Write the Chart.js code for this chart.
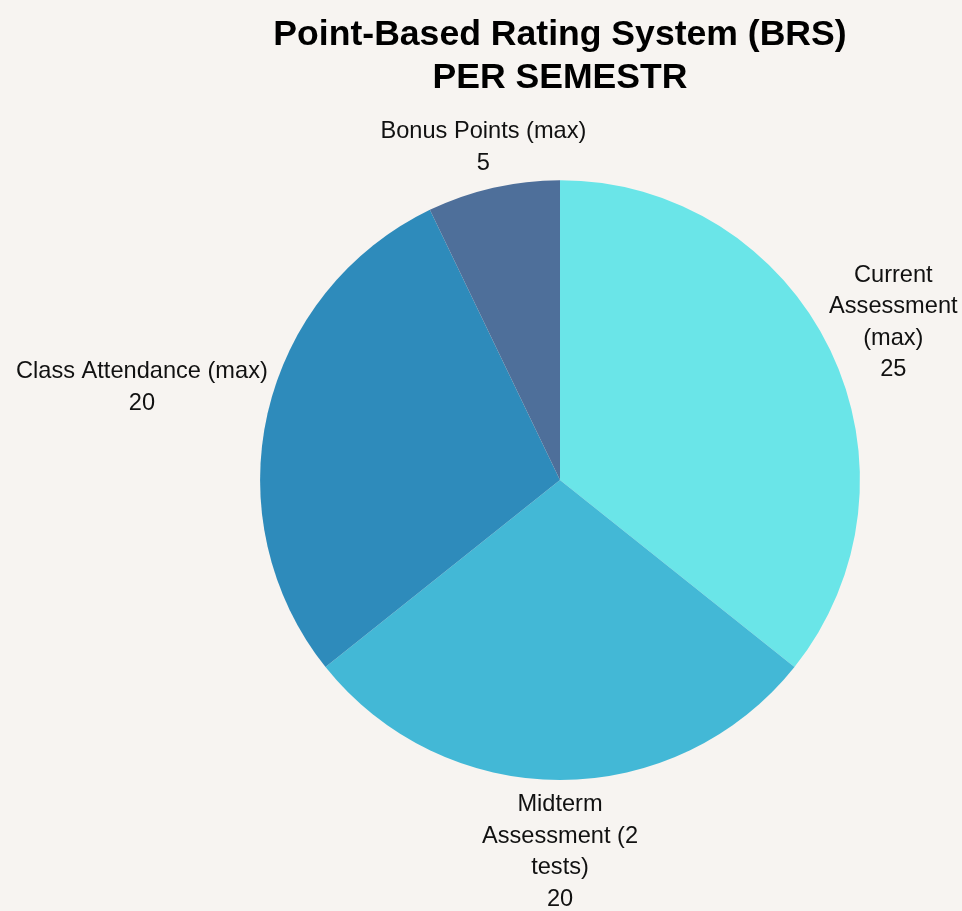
<!DOCTYPE html>
<html>
<head>
<meta charset="utf-8">
<title>BRS per semester</title>
<script src="https://cdn.jsdelivr.net/npm/chart.js@4"></script>
<style>
  html, body { margin: 0; padding: 0; background: #F7F4F1; }
  #wrap { width: 962px; height: 911px; }
</style>
</head>
<body>
<div id="wrap"><canvas id="brsChart" width="962" height="911"></canvas></div>
<script>
// --- data ---
const titleLines = ['Point-Based Rating System (BRS)', 'PER SEMESTR'];
const categories = [
    ['Current', 'Assessment', '(max)'],
    ['Midterm', 'Assessment (2', 'tests)'],
    ['Class Attendance (max)'],
    ['Bonus Points (max)']
];
const points = [25, 20, 20, 5];
const sliceColors = ['#6AE5E8', '#43B8D6', '#2E8BBB', '#4E6F9A'];

const FONT = "'Liberation Sans', Arial, Helvetica, sans-serif";

// draws each label + value outside its slice, pushed out along the middle angle
const outsideLabels = {
    id: 'outsideLabels',
    afterDatasetsDraw(chart) {
        const ctx = chart.ctx;
        const arcs = chart.getDatasetMeta(0).data;
        const fontSize = 23.6;
        const lineH = 31.5;
        ctx.save();
        ctx.font = fontSize + 'px ' + FONT;
        ctx.fillStyle = '#111';
        ctx.textAlign = 'center';
        ctx.textBaseline = 'middle';
        arcs.forEach(function (arc, i) {
            const p = arc.getProps(['x', 'y', 'startAngle', 'endAngle', 'outerRadius'], true);
            const mid = (p.startAngle + p.endAngle) / 2;
            const ux = Math.cos(mid);
            const uy = Math.sin(mid);
            const lines = categories[i].concat([String(points[i])]);
            let w = 0;
            lines.forEach(l => { w = Math.max(w, ctx.measureText(l).width); });
            const h = lines.length * lineH;
            // how far the text block reaches towards the pie along this direction
            const reach = Math.sqrt(Math.pow(w / 2 * ux, 2) + Math.pow(h / 2 * uy, 2));
            const d = p.outerRadius + 6 + reach;
            const cx = p.x + d * ux;
            const cy = p.y + d * uy + 3;
            lines.forEach(function (l, k) {
                ctx.fillText(l, cx, cy - h / 2 + lineH * (k + 0.5));
            });
        });
        ctx.restore();
    }
};

new Chart(document.getElementById('brsChart'), {
    type: 'pie',
    data: {
        labels: categories.map(c => c.join(' ')),
        datasets: [{
            data: points,
            backgroundColor: sliceColors,
            borderWidth: 0
        }]
    },
    options: {
        responsive: false,
        animation: false,
        layout: { padding: { top: 0, left: 260, right: 102, bottom: 131 } },
        plugins: {
            legend: { display: false },
            tooltip: { enabled: false },
            title: {
                display: true,
                text: titleLines,
                color: '#000',
                font: { family: FONT, size: 35.6, weight: 'bold', lineHeight: 1.21 },
                padding: { top: 14, bottom: 80 }
            }
        }
    },
    plugins: [outsideLabels]
});
</script>
</body>
</html>
